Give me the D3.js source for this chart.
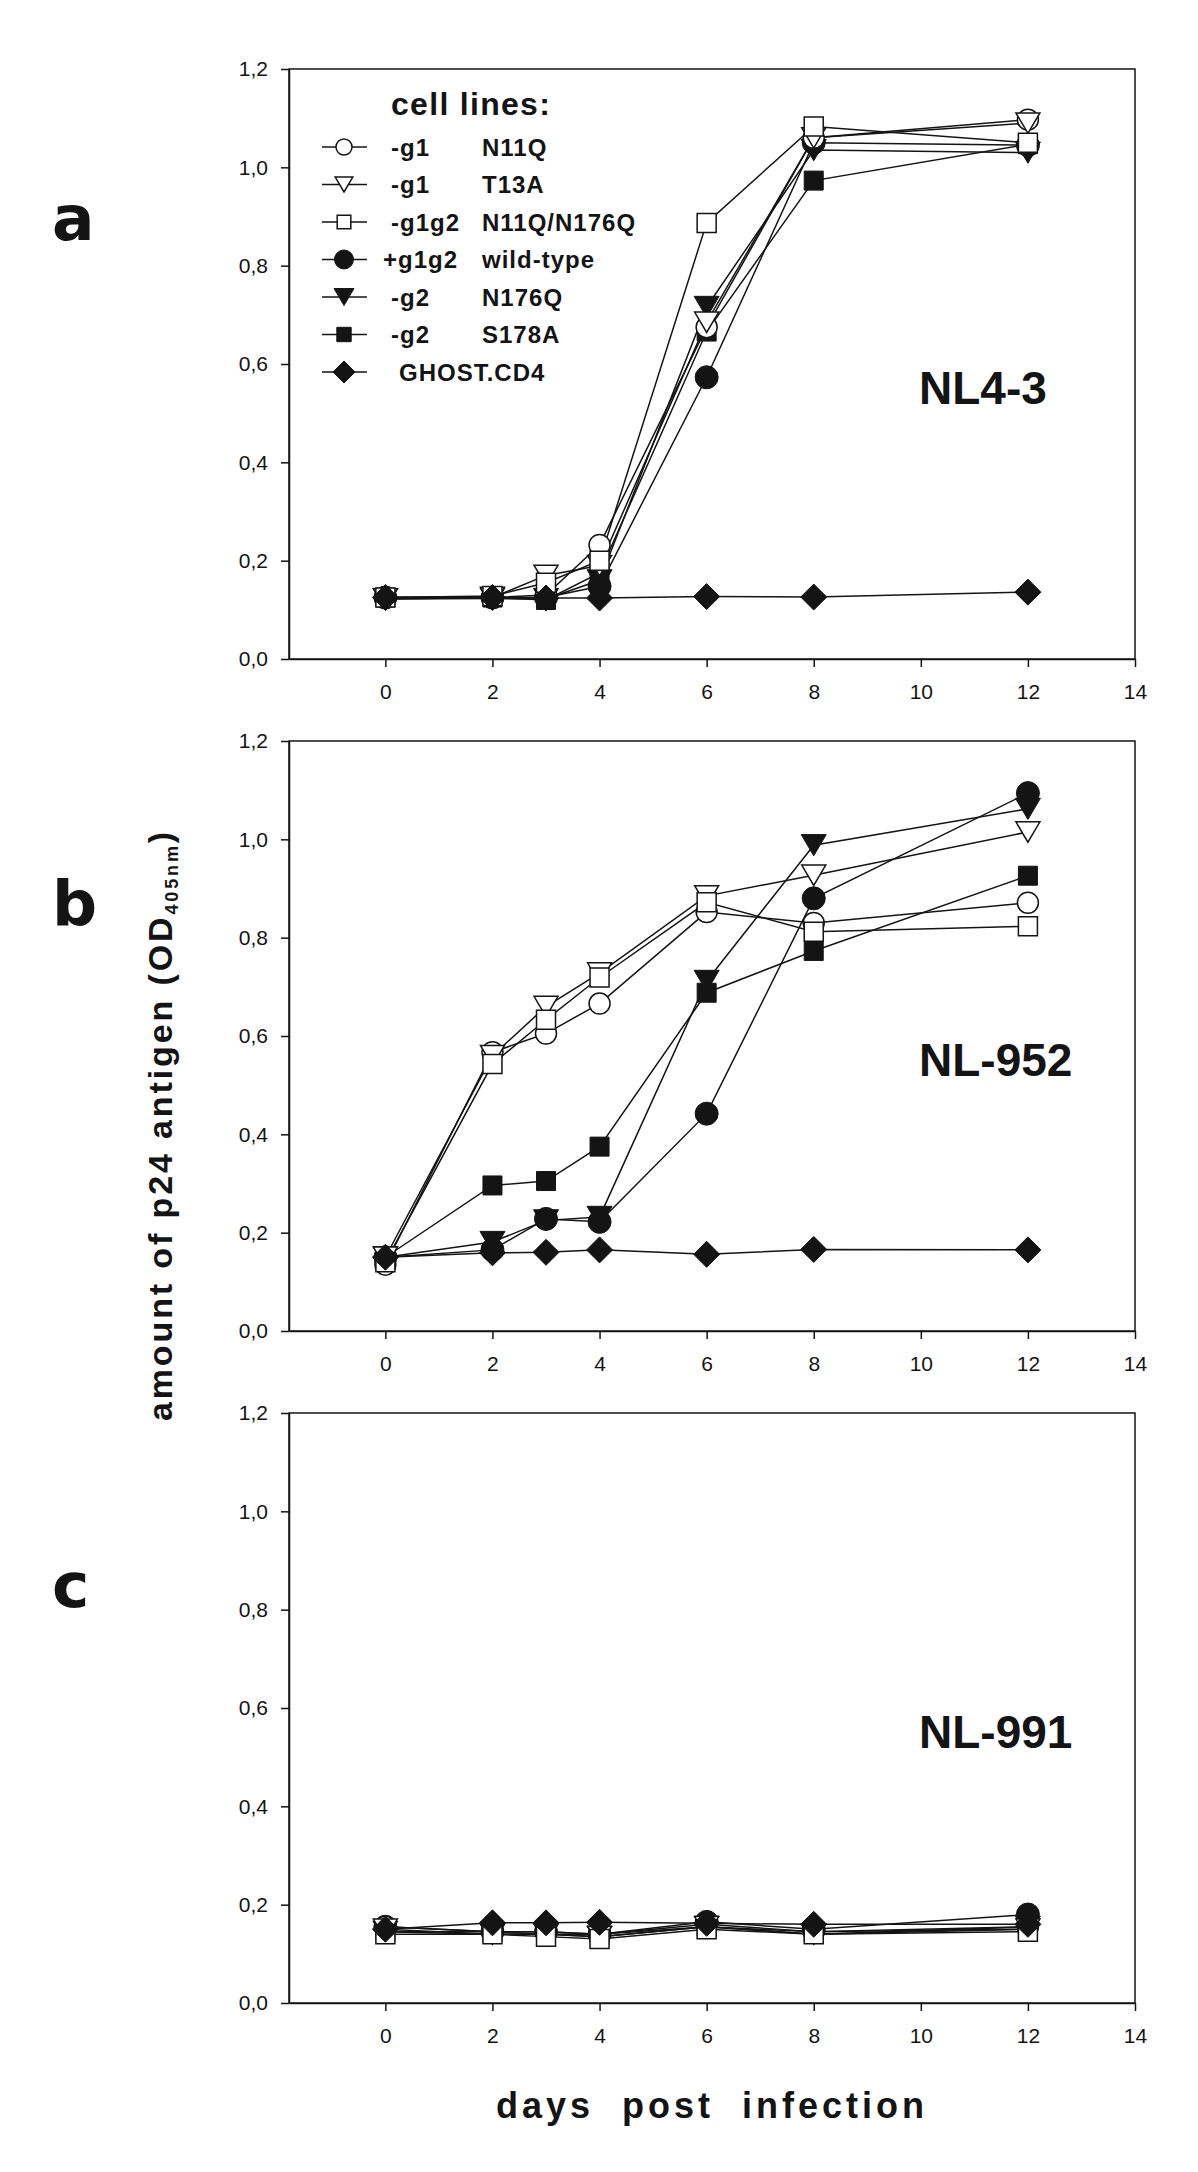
<!DOCTYPE html>
<html><head><meta charset="utf-8">
<script src="https://cdn.jsdelivr.net/npm/d3@7"></script>
<style>body{margin:0;background:#fff} svg{display:block;background:#fff}</style>
</head><body><svg id="chart" width="1198" height="2172"></svg>
<script>
// ---------- data ----------
const days = [0, 2, 3, 4, 6, 8, 12];
const legendCodes = ["-g1", "-g1", "-g1g2", "+g1g2", "-g2", "-g2", "GHOST.CD4"];
const legendMutations = ["N11Q", "T13A", "N11Q/N176Q", "wild-type", "N176Q", "S178A", ""];
const markerTypes = ["circleOpen", "triOpen", "squareOpen", "circleFilled", "triFilled", "squareFilled", "diamond"];
const panelNames = ["NL4-3", "NL-952", "NL-991"];
const panelLetters = ["a", "b", "c"];
const xTicks = [0, 2, 4, 6, 8, 10, 12, 14];
const yTicks = [0, 0.2, 0.4, 0.6, 0.8, 1.0, 1.2];
const yTickLabels = ["0,0", "0,2", "0,4", "0,6", "0,8", "1,0", "1,2"];
const legendTitle = "cell lines:";
const yTitle = "amount of p24 antigen (OD";
const yTitleSub = "405nm";
const xTitle = "days  post  infection";

// panel a: NL4-3
const nl43_g1_N11Q   = [0.125, 0.125, 0.130, 0.232, 0.675, 1.060, 1.097];
const nl43_g1_T13A   = [0.122, 0.125, 0.170, 0.190, 0.685, 1.060, 1.090];
const nl43_g1g2      = [0.125, 0.128, 0.155, 0.200, 0.887, 1.083, 1.050];
const nl43_wt        = [0.125, 0.125, 0.125, 0.148, 0.573, 1.050, 1.045];
const nl43_g2_N176Q  = [0.122, 0.123, 0.122, 0.160, 0.716, 1.035, 1.030];
const nl43_g2_S178A  = [0.125, 0.125, 0.120, 0.175, 0.666, 0.973, 1.047];
const nl43_ghost     = [0.125, 0.125, 0.124, 0.124, 0.127, 0.126, 0.136];
// panel b: NL-952
const nl952_g1_N11Q  = [0.135, 0.567, 0.605, 0.666, 0.852, 0.830, 0.871];
const nl952_g1_T13A  = [0.150, 0.560, 0.660, 0.728, 0.885, 0.927, 1.015];
const nl952_g1g2     = [0.140, 0.543, 0.633, 0.719, 0.872, 0.812, 0.823];
const nl952_wt       = [0.150, 0.165, 0.228, 0.222, 0.442, 0.880, 1.094];
const nl952_g2_N176Q = [0.150, 0.181, 0.225, 0.232, 0.712, 0.988, 1.062];
const nl952_g2_S178A = [0.150, 0.296, 0.305, 0.375, 0.688, 0.773, 0.926];
const nl952_ghost    = [0.150, 0.159, 0.160, 0.165, 0.156, 0.166, 0.165];
// panel c: NL-991
const nl991_g1_N11Q  = [0.155, 0.145, 0.145, 0.140, 0.160, 0.145, 0.155];
const nl991_g1_T13A  = [0.150, 0.140, 0.140, 0.135, 0.155, 0.140, 0.150];
const nl991_g1g2     = [0.140, 0.140, 0.135, 0.130, 0.150, 0.140, 0.145];
const nl991_wt       = [0.155, 0.145, 0.145, 0.140, 0.165, 0.150, 0.180];
const nl991_g2_N176Q = [0.145, 0.140, 0.140, 0.135, 0.155, 0.140, 0.155];
const nl991_g2_S178A = [0.145, 0.145, 0.140, 0.140, 0.155, 0.145, 0.150];
const nl991_ghost    = [0.150, 0.163, 0.163, 0.164, 0.162, 0.160, 0.160];

const panels = [
  [nl43_g1_N11Q, nl43_g1_T13A, nl43_g1g2, nl43_wt, nl43_g2_N176Q, nl43_g2_S178A, nl43_ghost],
  [nl952_g1_N11Q, nl952_g1_T13A, nl952_g1g2, nl952_wt, nl952_g2_N176Q, nl952_g2_S178A, nl952_ghost],
  [nl991_g1_N11Q, nl991_g1_T13A, nl991_g1g2, nl991_wt, nl991_g2_N176Q, nl991_g2_S178A, nl991_ghost]
];

// ---------- layout ----------
const INK = "#141414";
const FONT = "'Liberation Sans', Arial, sans-serif";
const svg = d3.select("#chart");
const plotLeft = 289, plotRight = 1135, plotH = 590;
const panelTops = [69, 741, 1413];
const letterOffsets = [171, 184, 194];
const drawOrder = [5, 4, 3, 0, 1, 2, 6];

const x = d3.scaleLinear().domain([-1.8, 14]).range([plotLeft, plotRight]);

const dataSize = {circleOpen: 10.5, triOpen: 12, squareOpen: 9.5, circleFilled: 11.5, triFilled: 12.5, squareFilled: 9.5, diamond: 13};
const legendSize = {circleOpen: 8, triOpen: 8.8, squareOpen: 6.8, circleFilled: 9.5, triFilled: 10, squareFilled: 7.2, diamond: 11};

function markerPath(type, s) {
  if (type.startsWith("circle")) {
    return `M${-s},0A${s},${s} 0 1,0 ${s},0A${s},${s} 0 1,0 ${-s},0Z`;
  }
  if (type.startsWith("tri")) {
    const h = s * 0.85;
    return `M${-s},${-h}L${s},${-h}L0,${h}Z`;
  }
  if (type.startsWith("square")) {
    return `M${-s},${-s}H${s}V${s}H${-s}Z`;
  }
  return `M0,${-s}L${s},0L0,${s}L${-s},0Z`;
}
function styleMarker(sel, type) {
  const open = type.endsWith("Open");
  sel.attr("fill", open ? "#fff" : INK)
     .attr("stroke", INK)
     .attr("stroke-width", open ? 1.5 : 1);
}

panels.forEach((series, p) => {
  const top = panelTops[p];
  const y = d3.scaleLinear().domain([0, 1.2]).range([top + plotH, top]);
  const g = svg.append("g");

  // frame
  g.append("rect").attr("x", plotLeft).attr("y", top)
    .attr("width", plotRight - plotLeft).attr("height", plotH)
    .attr("fill", "none").attr("stroke", INK).attr("stroke-width", 1.5);

  const ax = g.append("g").attr("transform", `translate(0,${top + plotH})`)
    .call(d3.axisBottom(x).tickValues(xTicks).tickSize(8).tickPadding(17).tickSizeOuter(0).tickFormat(d3.format("d")));
  const ay = g.append("g").attr("transform", `translate(${plotLeft},0)`)
    .call(d3.axisLeft(y).tickValues(yTicks).tickSize(8).tickPadding(13).tickSizeOuter(0).tickFormat((d, i) => yTickLabels[i]));
  [ax, ay].forEach(a => {
    a.select(".domain").attr("stroke", INK).attr("stroke-width", 1.5);
    a.selectAll(".tick line").attr("stroke", INK).attr("stroke-width", 1.5);
    a.selectAll(".tick text").attr("font-family", FONT).attr("font-size", 21).attr("fill", INK);
  });

  // series: all lines first, then markers
  const line = d3.line().x((d, i) => x(days[i])).y(d => y(d));
  drawOrder.forEach(s => {
    g.append("path").datum(series[s]).attr("d", line)
      .attr("fill", "none").attr("stroke", INK).attr("stroke-width", 1.5);
  });
  drawOrder.forEach(s => {
    const type = markerTypes[s];
    g.selectAll(null).data(series[s]).join("path")
      .attr("transform", (d, i) => `translate(${x(days[i])},${y(d)})`)
      .attr("d", markerPath(type, dataSize[type]))
      .call(styleMarker, type);
  });

  // panel name
  g.append("text").attr("x", 919).attr("y", top + 335)
    .attr("font-family", FONT).attr("font-weight", "bold").attr("font-size", 46)
    .attr("fill", INK).text(panelNames[p]);

  // panel letter
  svg.append("text").attr("x", 52).attr("y", top + letterOffsets[p])
    .attr("font-family", "'DejaVu Sans', sans-serif").attr("font-weight", "bold").attr("font-size", 63)
    .attr("fill", INK).text(panelLetters[p]);

  // legend in panel a
  if (p === 0) {
    const lg = g.append("g");
    lg.append("text").attr("x", 391).attr("y", top + 46)
      .attr("font-family", FONT).attr("font-weight", "bold").attr("font-size", 32)
      .attr("letter-spacing", 1.3).attr("fill", INK).text(legendTitle);
    markerTypes.forEach((type, i) => {
      const cy = top + 78 + i * 37.5;
      lg.append("line").attr("x1", 322).attr("x2", 367).attr("y1", cy).attr("y2", cy)
        .attr("stroke", INK).attr("stroke-width", 1.3);
      lg.append("path").attr("transform", `translate(344,${cy})`)
        .attr("d", markerPath(type, legendSize[type])).call(styleMarker, type);
      const code = legendCodes[i];
      const cx = code.startsWith("+") ? 383 : (code.startsWith("-") ? 391 : 399);
      lg.append("text").attr("x", cx).attr("y", cy + 8.5)
        .attr("font-family", FONT).attr("font-weight", "bold").attr("font-size", 24)
        .attr("letter-spacing", 1).attr("fill", INK).text(code);
      if (legendMutations[i]) {
        lg.append("text").attr("x", 482).attr("y", cy + 8.5)
          .attr("font-family", FONT).attr("font-weight", "bold").attr("font-size", 24)
          .attr("letter-spacing", 1).attr("fill", INK).text(legendMutations[i]);
      }
    });
  }
});

// fit helper: adjust letter-spacing so text spans target width
function fitWidth(t, target) {
  const n = t.text().length;
  const w0 = t.node().getComputedTextLength();
  const ls = (target - w0) / n;
  t.attr("letter-spacing", ls.toFixed(2));
}

// x title
const xt = svg.append("text").attr("x", 712).attr("y", 2118)
  .attr("text-anchor", "middle").attr("font-family", FONT).attr("font-weight", "bold")
  .attr("font-size", 36).attr("fill", INK).attr("xml:space", "preserve")
  .style("white-space", "pre").text(xTitle);
fitWidth(xt, 432);

// y title
const yt = svg.append("text").attr("transform", "translate(172,1125) rotate(-90)")
  .attr("text-anchor", "middle").attr("font-family", FONT).attr("font-weight", "bold")
  .attr("font-size", 34).attr("fill", INK);
yt.append("tspan").text(yTitle);
yt.append("tspan").attr("font-size", 18).attr("dy", 6).text(yTitleSub);
yt.append("tspan").attr("dy", -6).text(")");
(function () {
  const n = (yTitle + yTitleSub + ")").length;
  const w0 = yt.node().getComputedTextLength();
  yt.attr("letter-spacing", ((592 - w0) / n).toFixed(2));
})();
</script>
</body></html>
